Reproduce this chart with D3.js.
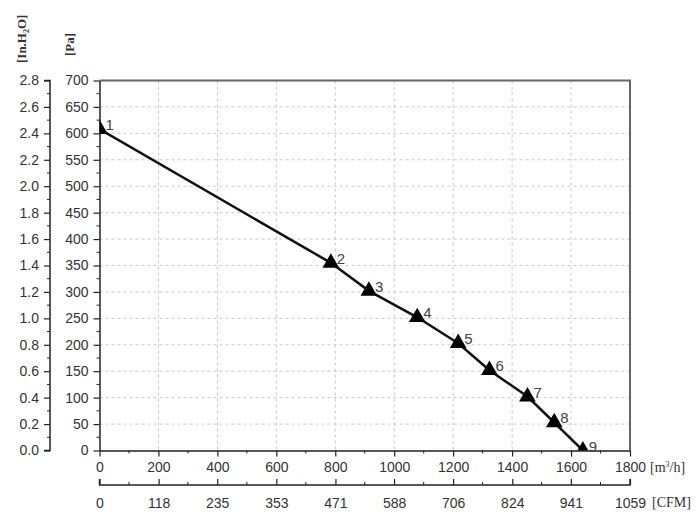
<!DOCTYPE html>
<html>
<head>
<meta charset="utf-8">
<script src="https://cdn.jsdelivr.net/npm/d3@7"></script>
<style>
  body { margin: 0; background: #fff; }
  text { font-family: "Liberation Sans", Arial, sans-serif; }
</style>
</head>
<body>
<div id="chart"></div>
<script>
// data
var flow = [0, 785, 914, 1078, 1217, 1323, 1452, 1543, 1640];      // m3/h
var pressure = [608, 355, 302, 252, 203, 152, 102, 53, 0];          // Pa
var pointLabels = ['1','2','3','4','5','6','7','8','9'];

var flowTicks = [0, 200, 400, 600, 800, 1000, 1200, 1400, 1600, 1800];
var cfmTicks = [0, 118, 235, 353, 471, 588, 706, 824, 941, 1059];
var paTicks = [0, 50, 100, 150, 200, 250, 300, 350, 400, 450, 500, 550, 600, 650, 700];
var inTicks = [0, 0.2, 0.4, 0.6, 0.8, 1.0, 1.2, 1.4, 1.6, 1.8, 2.0, 2.2, 2.4, 2.6, 2.8];

var W = 700, H = 520;
var pLeft = 99.5, pRight = 630, pTop = 80.5, pBottom = 450.5;
var textColor = '#333';

var svg = d3.select('#chart').append('svg')
    .attr('width', W).attr('height', H);

var x = d3.scaleLinear().domain([0, 1800]).range([pLeft, pRight]);
var xc = d3.scaleLinear().domain([0, 1059]).range([pLeft, pRight]);
var y = d3.scaleLinear().domain([0, 700]).range([pBottom, pTop]);
var yi = d3.scaleLinear().domain([0, 2.8]).range([pBottom, pTop]);

// grid
var grid = svg.append('g');
grid.selectAll('line.gx').data(flowTicks.slice(1, -1)).enter().append('line')
    .attr('x1', d => x(d)).attr('x2', d => x(d))
    .attr('y1', pTop).attr('y2', pBottom)
    .attr('stroke', '#c8c8c8').attr('stroke-dasharray', '3,3').attr('stroke-width', 1);
grid.selectAll('line.gy').data(paTicks.slice(1, -1)).enter().append('line')
    .attr('y1', d => y(d)).attr('y2', d => y(d))
    .attr('x1', pLeft).attr('x2', pRight)
    .attr('stroke', '#c8c8c8').attr('stroke-dasharray', '3,3').attr('stroke-width', 1);

// frame top / right
svg.append('path')
    .attr('d', 'M' + pLeft + ',' + pTop + 'H' + pRight + 'V' + pBottom)
    .attr('fill', 'none').attr('stroke', '#666').attr('stroke-width', 2);

function styleAxis(g) {
    g.selectAll('.domain').attr('stroke', '#222').attr('stroke-width', 1.5);
    g.selectAll('.tick line').attr('stroke', '#222').attr('stroke-width', 1.2);
    g.selectAll('text').attr('fill', textColor).style('font-size', '14px');
}

// minor tick helper
function minor(g, vals, fn) {
    g.selectAll('line.mn').data(vals).enter().append('line').attr('class', 'mn')
        .each(function (d) { fn(d3.select(this), d); })
        .attr('stroke', '#222').attr('stroke-width', 1);
}

// Pa axis
var gPa = svg.append('g').attr('transform', 'translate(' + pLeft + ',0)')
    .call(d3.axisLeft(y).tickValues(paTicks).tickSize(6).tickSizeOuter(0).tickPadding(5));
styleAxis(gPa);
minor(gPa, d3.range(25, 700, 50), (s, d) => s.attr('x1', 0).attr('x2', -3).attr('y1', y(d)).attr('y2', y(d)));

// in.H2O axis
var gIn = svg.append('g').attr('transform', 'translate(50,0)')
    .call(d3.axisLeft(yi).tickValues(inTicks).tickFormat(d3.format('.1f')).tickSize(6).tickSizeOuter(0).tickPadding(5));
styleAxis(gIn);
gIn.select('.domain').attr('d', 'M-6,' + pTop + 'H0V' + pBottom + 'H-6');
minor(gIn, d3.range(0.1, 2.8, 0.2), (s, d) => s.attr('x1', 0).attr('x2', -3).attr('y1', yi(d)).attr('y2', yi(d)));

// m3/h axis
var gX = svg.append('g').attr('transform', 'translate(0,' + pBottom + ')')
    .call(d3.axisBottom(x).tickValues(flowTicks).tickFormat(d3.format('d')).tickSize(6).tickSizeOuter(0).tickPadding(6));
styleAxis(gX);
minor(gX, d3.range(100, 1800, 200), (s, d) => s.attr('x1', x(d)).attr('x2', x(d)).attr('y1', 0).attr('y2', 3));

// CFM axis
var cfmY = 485;
var gC = svg.append('g').attr('transform', 'translate(0,' + cfmY + ')')
    .call(d3.axisTop(xc).tickValues(cfmTicks).tickFormat(d3.format('d')).tickSize(6).tickSizeOuter(0));
styleAxis(gC);
gC.select('.domain').attr('d', 'M' + pLeft + ',-6V0H' + pRight + 'V-6');
gC.selectAll('.tick text').attr('y', 13).attr('dy', '0.71em');
minor(gC, d3.range(1059 / 18, 1059, 1059 / 9), (s, d) => s.attr('x1', xc(d)).attr('x2', xc(d)).attr('y1', 0).attr('y2', -3));

// units
var serif = '"Liberation Serif", "Times New Roman", serif';
svg.append('text').attr('x', pRight + 20).attr('y', pBottom + 21)
    .style('font-family', serif).style('font-size', '14px').attr('fill', textColor)
    .html('[m<tspan dy="-5" font-size="8">3</tspan><tspan dy="5">/h]</tspan>');
svg.append('text').attr('x', pRight + 22).attr('y', cfmY + 22)
    .style('font-family', serif).style('font-size', '14px').attr('fill', textColor)
    .text('[CFM]');
svg.append('text').attr('transform', 'translate(26,63) rotate(-90)')
    .style('font-family', serif).style('font-size', '13px').style('font-weight', 'bold').attr('fill', textColor)
    .html('[In.H<tspan dy="3" font-size="8">2</tspan><tspan dy="-3">O]</tspan>');
svg.append('text').attr('transform', 'translate(74,56) rotate(-90)')
    .style('font-family', serif).style('font-size', '13px').style('font-weight', 'bold').attr('fill', textColor)
    .text('[Pa]');

// curve
svg.append('clipPath').attr('id', 'plotclip').append('rect')
    .attr('x', pLeft).attr('y', pTop).attr('width', pRight - pLeft).attr('height', pBottom - pTop);

var pts = flow.map((f, i) => [f, pressure[i], pointLabels[i]]);
var plot = svg.append('g').attr('clip-path', 'url(#plotclip)');
plot.append('path').datum(pts)
    .attr('d', d3.line().x(d => x(d[0])).y(d => y(d[1])))
    .attr('fill', 'none').attr('stroke', '#111').attr('stroke-width', 2.5);
plot.selectAll('path.mk').data(pts).enter().append('path').attr('class', 'mk')
    .attr('transform', d => 'translate(' + x(d[0]) + ',' + y(d[1]) + ')')
    .attr('d', d3.symbol().type(d3.symbolTriangle).size(120))
    .attr('fill', '#000');

svg.selectAll('text.pl').data(pts).enter().append('text').attr('class', 'pl')
    .attr('x', d => x(d[0]) + 6).attr('y', d => y(d[1]) + 1)
    .attr('fill', '#444').style('font-size', '15px')
    .text(d => d[2]);
</script>
</body>
</html>
